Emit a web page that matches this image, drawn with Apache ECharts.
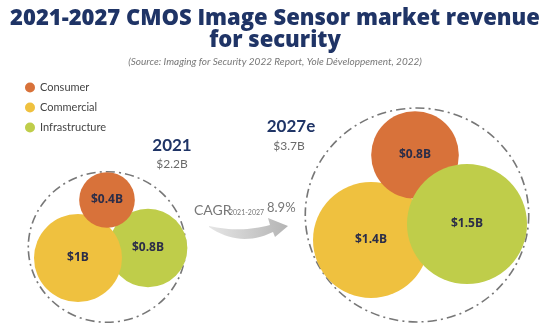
<!DOCTYPE html>
<html>
<head>
<meta charset="utf-8">
<script src="https://cdn.jsdelivr.net/npm/echarts@6/dist/echarts.min.js"></script>
<style>
html,body{margin:0;padding:0;background:#fff;}
#chart{width:550px;height:331px;}
</style>
</head>
<body>
<div id="chart"></div>
<script>
// ---- data ----
const categories = ['Consumer', 'Commercial', 'Infrastructure'];
const years = ['2021', '2027e'];
const totals = [2.2, 3.7];
const totalLabels = ['$2.2B', '$3.7B'];
const values2021 = [0.4, 1.0, 0.8];
const values2027 = [0.8, 1.4, 1.5];
const valueLabels2021 = ['$0.4B', '$1B', '$0.8B'];
const valueLabels2027 = ['$0.8B', '$1.4B', '$1.5B'];
const cagrPeriod = '2021-2027';
const cagrValue = '8.9%';
const titleText = '2021-2027 CMOS Image Sensor market revenue\nfor security';
const sourceText = '(Source: Imaging for Security 2022 Report, Yole Développement, 2022)';

// ---- layout / style ----
const colors = ['#d8723a', '#efc13f', '#bfcd4a'];
const navy = '#1f3466';
const groupValues = [values2021, values2027];
const groupLabels = [valueLabels2021, valueLabels2027];
// bubble centres in the pixel-like layout space (x right, y down)
const layoutCenters = [
  [[107, 200], [78, 258], [148, 248]],
  [[415, 155], [371, 240], [467, 224]]
];
const ringCenters = [[107, 247], [417, 215]];
const radiusScale = [44, 49];
const ringFactor = [1.18, 1.16];
const drawOrder = [[2, 1, 0], [1, 0, 2]];
const yearLabelPos = [[172, 146], [291, 127]];
const totalLabelPos = [[172, 164], [289, 146]];

const series = [];
for (let g = 0; g < 2; g++) {
  const d = 2 * radiusScale[g] * Math.sqrt(totals[g]) * ringFactor[g];
  series.push({
    type: 'scatter', name: 'ring' + years[g], silent: true, z: 1,
    data: [[ringCenters[g][0], ringCenters[g][1], totals[g]]],
    symbol: 'circle',
    symbolSize: [d * 1.022, d * 0.978],
    itemStyle: { color: 'rgba(0,0,0,0)', borderColor: '#555', borderWidth: 1.6, borderType: [9, 4, 2, 4] },
    label: { show: false }
  });
  drawOrder[g].forEach((i, k) => {
    const v = groupValues[g][i];
    series.push({
      type: 'scatter', name: categories[i], z: 2 + k,
      data: [[layoutCenters[g][i][0], layoutCenters[g][i][1], v]],
      symbol: 'circle',
      symbolSize: 2 * radiusScale[g] * Math.sqrt(v),
      itemStyle: { color: colors[i], opacity: 1 },
      label: {
        show: true, position: 'inside',
        formatter: groupLabels[g][i],
        color: '#2b2d48', fontSize: 12, fontWeight: 'bold', fontFamily: 'Open Sans'
      },
      emphasis: { disabled: true }
    });
  });
}

// quadratic bezier sampler for the decorative arrow outline
function quad(p0, c, p1, n) {
  const pts = [];
  for (let t = 0; t <= n; t++) {
    const s = t / n, a = (1 - s) * (1 - s), b = 2 * (1 - s) * s, e = s * s;
    pts.push([a * p0[0] + b * c[0] + e * p1[0], a * p0[1] + b * c[1] + e * p1[1]]);
  }
  return pts;
}
const arrowPts = [].concat(
  quad([209, 226], [240, 233], [270, 225], 16),
  [[268, 218], [288, 226], [275, 237]],
  quad([273, 232], [240, 248], [209, 227], 16)
);

const graphics = [];
for (let g = 0; g < 2; g++) {
  graphics.push({
    type: 'text', x: yearLabelPos[g][0], y: yearLabelPos[g][1],
    style: { text: years[g], font: 'bold 17px Lato', fill: navy, align: 'center', verticalAlign: 'middle' }
  });
  graphics.push({
    type: 'text', x: totalLabelPos[g][0], y: totalLabelPos[g][1],
    style: { text: totalLabels[g], font: '12px Lato', fill: '#6a6a6a', align: 'center', verticalAlign: 'middle' }
  });
}
graphics.push({
  type: 'polygon',
  shape: { points: arrowPts },
  style: {
    fill: { type: 'linear', x: 0, y: 0, x2: 1, y2: 0, colorStops: [{ offset: 0, color: '#e6e6e6' }, { offset: 1, color: '#b4b4b4' }] }
  }
});
graphics.push({ type: 'text', x: 194, y: 210, style: { text: 'CAGR', font: '14px Lato', fill: '#777', verticalAlign: 'middle' } });
graphics.push({ type: 'text', x: 229, y: 213, style: { text: cagrPeriod, font: '7px Lato', fill: '#777', verticalAlign: 'middle' } });
graphics.push({ type: 'text', x: 267, y: 208, style: { text: cagrValue, font: '13px Lato', fill: '#777', verticalAlign: 'middle' } });

const chart = echarts.init(document.getElementById('chart'));
chart.setOption({
  backgroundColor: '#fff',
  animation: false,
  title: {
    text: titleText,
    subtext: sourceText,
    left: 'center', top: 3,
    itemGap: 5,
    textStyle: { fontSize: 22, fontWeight: 800, color: navy, fontFamily: 'Open Sans', lineHeight: 22 },
    subtextStyle: { fontSize: 10, fontStyle: 'italic', color: '#777', fontFamily: 'Lato' }
  },
  legend: {
    data: categories, orient: 'vertical', left: 20, top: 77,
    icon: 'circle', itemWidth: 10, itemHeight: 10, itemGap: 9,
    selectedMode: false,
    textStyle: { fontSize: 11, color: '#444', fontFamily: 'Lato' }
  },
  grid: { left: 0, right: 0, top: 0, bottom: 0 },
  xAxis: { type: 'value', min: 0, max: 550, show: false },
  yAxis: { type: 'value', min: 0, max: 331, inverse: true, show: false },
  series: series,
  graphic: graphics
});
</script>
</body>
</html>
